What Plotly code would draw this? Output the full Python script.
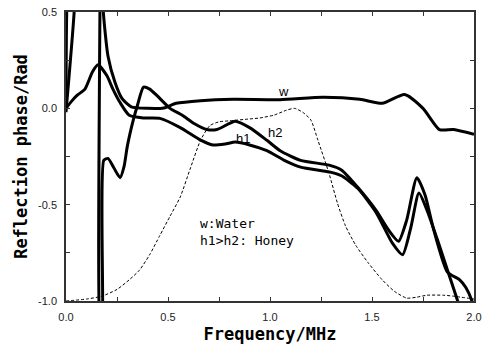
import plotly.graph_objects as go

# ---- data ----
w_x = [0.0, 0.008, 0.1, 0.178, 0.183, 0.206, 0.24, 0.275, 0.32, 0.4, 0.48, 0.54, 0.66, 0.82,
       1.05, 1.26, 1.44, 1.55, 1.66, 1.75, 1.83, 1.9, 2.0]
w_y = [0.01, 0.7, 2.0, 0.7, 0.5, 0.27, 0.135, 0.05, 0.008, 0.0, 0.002, 0.026, 0.04, 0.047,
       0.045, 0.057, 0.047, 0.026, 0.072, 0.0, -0.11, -0.11, -0.135]

h2_x = [0.0, 0.04, 0.06, 0.165, 0.169, 0.176, 0.185, 0.206, 0.235, 0.265, 0.285, 0.30, 0.33,
        0.35, 0.38, 0.41, 0.445, 0.51, 0.57, 0.63, 0.69, 0.74, 0.83, 0.9, 0.985, 1.05,
        1.15, 1.29, 1.35, 1.43, 1.52, 1.58, 1.63, 1.67, 1.72, 1.76, 1.8, 1.87, 1.93, 1.96,
        1.99, 2.0]
h2_y = [-0.02, 0.5, 1.0, 2.0, -1.2, -1.2, -0.27, -0.26, -0.31, -0.36, -0.3, -0.2, -0.06,
        0.015, 0.11, 0.1, 0.067, 0.0, -0.036, -0.08, -0.11, -0.11, -0.067, -0.1, -0.166, -0.22,
        -0.27, -0.295, -0.32, -0.41, -0.53, -0.63, -0.69, -0.58, -0.36, -0.45, -0.62, -0.85,
        -0.89, -0.93, -1.0, -1.05]

h1_x = [0.0, 0.03, 0.054, 0.093, 0.13, 0.157, 0.2, 0.23, 0.265, 0.31, 0.38, 0.46, 0.56, 0.66,
        0.72, 0.78, 0.83, 0.9, 0.985, 1.07, 1.15, 1.29, 1.35, 1.43, 1.52, 1.6, 1.65, 1.69,
        1.73, 1.77, 1.82, 1.87, 1.92, 1.95]
h1_y = [0.0, 0.04, 0.067, 0.10, 0.19, 0.226, 0.17, 0.10, 0.03, -0.036, -0.05, -0.052, -0.1,
        -0.165, -0.19, -0.185, -0.175, -0.19, -0.22, -0.27, -0.305, -0.33, -0.35, -0.415,
        -0.54, -0.7, -0.76, -0.62, -0.44, -0.53, -0.68, -0.84, -1.0, -1.1]

amp_x = [0.0, 0.1, 0.176, 0.25, 0.31, 0.36, 0.41, 0.46, 0.51, 0.56, 0.61, 0.66, 0.705, 0.75,
         0.8, 0.9, 0.95, 1.02, 1.08, 1.12, 1.16, 1.2, 1.235, 1.29, 1.33, 1.37, 1.42, 1.48,
         1.55, 1.61, 1.67, 1.72, 1.77, 1.85, 1.9, 2.0]
amp_y = [-1.0, -0.99, -0.975, -0.94, -0.89, -0.84, -0.76, -0.66, -0.56, -0.46, -0.31, -0.165,
         -0.09, -0.07, -0.065, -0.055, -0.05, -0.035, -0.01, 0.0, -0.02, -0.06, -0.166, -0.34,
         -0.49, -0.61, -0.71, -0.8, -0.89, -0.95, -0.985, -0.98, -0.97, -0.97, -0.975, -0.99]

x_ticks = [0.0, 0.25, 0.5, 0.75, 1.0, 1.25, 1.5, 1.75, 2.0]
x_tick_text = ["0.0", "", "0.5", "", "1.0", "", "1.5", "", "2.0"]
y_ticks = [-1.0, -0.75, -0.5, -0.25, 0.0, 0.25, 0.5]
y_tick_text = ["-1.0", "", "-0.5", "", "0.0", "", "0.5"]

fig = go.Figure()
fig.add_trace(go.Scatter(x=amp_x, y=amp_y, mode="lines",
                         line=dict(color="black", width=1, dash="3px,2px", shape="spline", smoothing=0.6)))
for xs, ys in [(w_x, w_y), (h2_x, h2_y), (h1_x, h1_y)]:
    fig.add_trace(go.Scatter(x=xs, y=ys, mode="lines",
                             line=dict(color="black", width=3, shape="spline", smoothing=0.6)))

ax_common = dict(showline=True, linecolor="#333", linewidth=1.5, mirror="ticks",
                 ticks="inside", ticklen=4, tickcolor="#333", showgrid=False, zeroline=False,
                 automargin=False,
                 tickfont=dict(family="Liberation Sans, Arial", size=11, color="#222"))
fig.update_xaxes(range=[0, 2], tickvals=x_ticks, ticktext=x_tick_text, ticklabelstandoff=5,
                 title=dict(text="<b>Frequency/MHz</b>", standoff=6,
                            font=dict(family="DejaVu Sans Mono", size=17, color="black")),
                 **ax_common)
fig.update_yaxes(range=[-1, 0.5], tickvals=y_ticks, ticktext=y_tick_text, ticklabelstandoff=5,
                 title=dict(text="<b>Reflection phase/Rad</b>", standoff=6,
                            font=dict(family="DejaVu Sans Mono", size=17, color="black")),
                 **ax_common)

lab_font = dict(family="Liberation Sans, Arial", size=13, color="black")
for txt, x, y in [("w", 1.064, 0.088), ("h2", 1.025, -0.124), ("h1", 0.868, -0.155)]:
    fig.add_annotation(x=x, y=y, text=txt, showarrow=False, font=lab_font)
mono = dict(family="DejaVu Sans Mono", size=13, color="black")
fig.add_annotation(x=0.647, y=-0.60, text="w:Water", showarrow=False, xanchor="left", font=mono)
fig.add_annotation(x=0.647, y=-0.684, text="h1>h2: Honey", showarrow=False, xanchor="left", font=mono)

fig.update_layout(width=485, height=349, margin=dict(l=66, r=11, t=12, b=48),
                  plot_bgcolor="white", paper_bgcolor="white", showlegend=False)
fig.write_html("out.html")
